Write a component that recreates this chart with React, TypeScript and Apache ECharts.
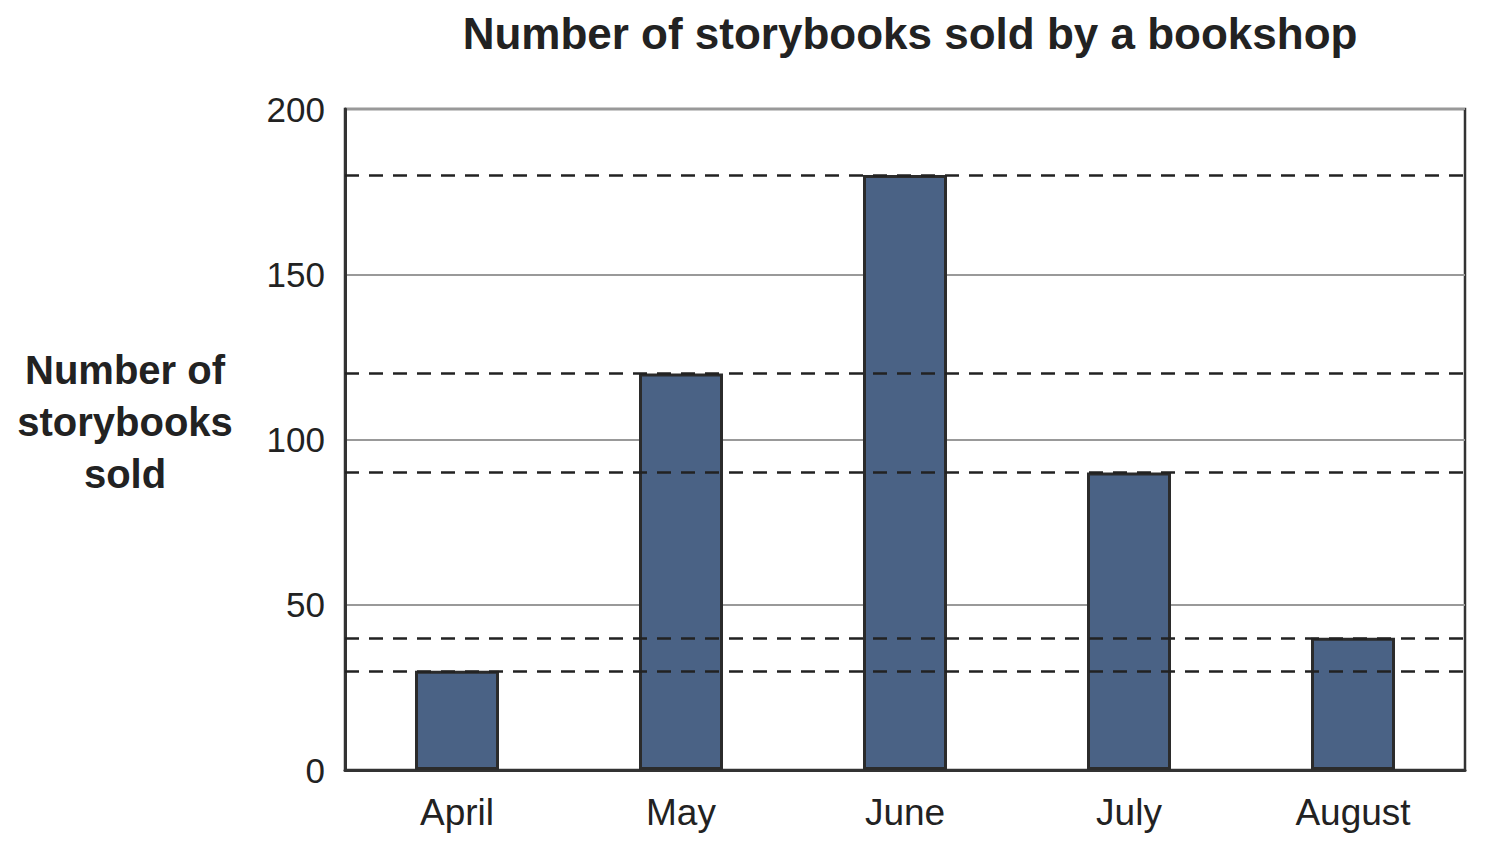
import React, { useEffect, useRef } from "react";
import * as echarts from "echarts";

const months = ["April", "May", "June", "July", "August"];
const sold = [30, 120, 180, 90, 40];
const refLevels = [30, 40, 90, 120, 180];

export default function App() {
  const ref = useRef<HTMLDivElement>(null);
  useEffect(() => {
    document.body.style.margin = "0";
    const chart = echarts.init(ref.current!, null, { renderer: "svg" });
    chart.setOption({
      animation: false,
      backgroundColor: "#ffffff",
      textStyle: { fontFamily: "Liberation Sans, Arial, sans-serif" },
      title: {
        text: "Number of storybooks sold by a bookshop",
        left: 905,
        textAlign: "center",
        top: 6,
        textStyle: { fontSize: 44, fontWeight: "bold", color: "#222" },
      },
      graphic: [
        {
          type: "text",
          x: 125,
          y: 422,
          style: {
            text: "Number of\nstorybooks\nsold",
            fontSize: 40,
            fontWeight: "bold",
            fill: "#222",
            align: "center",
            verticalAlign: "middle",
            lineHeight: 52,
            fontFamily: "Liberation Sans, Arial, sans-serif",
          },
        },
      ],
      grid: {
        left: 345,
        right: 20,
        top: 109,
        bottom: 82,
        show: true,
        borderColor: "#333",
        borderWidth: 2.5,
      },
      xAxis: {
        type: "category",
        data: months,
        axisLine: { show: true, lineStyle: { color: "#333", width: 3 } },
        axisTick: { show: false },
        axisLabel: { fontSize: 37, color: "#222", margin: 24 },
      },
      yAxis: {
        type: "value",
        min: 0,
        max: 200,
        interval: 50,
        axisLine: { show: true, lineStyle: { color: "#333", width: 3 } },
        axisTick: { show: false },
        axisLabel: { fontSize: 35, color: "#222", margin: 20 },
        splitLine: { show: true, lineStyle: { color: "#999", width: 2 } },
      },
      series: [
        {
          type: "line",
          data: months.map(() => null),
          showSymbol: false,
          silent: true,
          z: 1,
          markLine: {
            silent: true,
            symbol: "none",
            label: { show: false },
            lineStyle: { type: [14, 10], color: "#222", width: 2.6 },
            data: refLevels.map((v) => ({ yAxis: v })),
          },
        },
        {
          type: "bar",
          data: sold,
          barWidth: "37.5%",
          z: 3,
          itemStyle: { color: "#4a6285", borderColor: "#2b2b2b", borderWidth: 3 },
        },
      ],
    });
    return () => chart.dispose();
  }, []);
  return <div ref={ref} style={{ width: 1485, height: 852 }} />;
}
